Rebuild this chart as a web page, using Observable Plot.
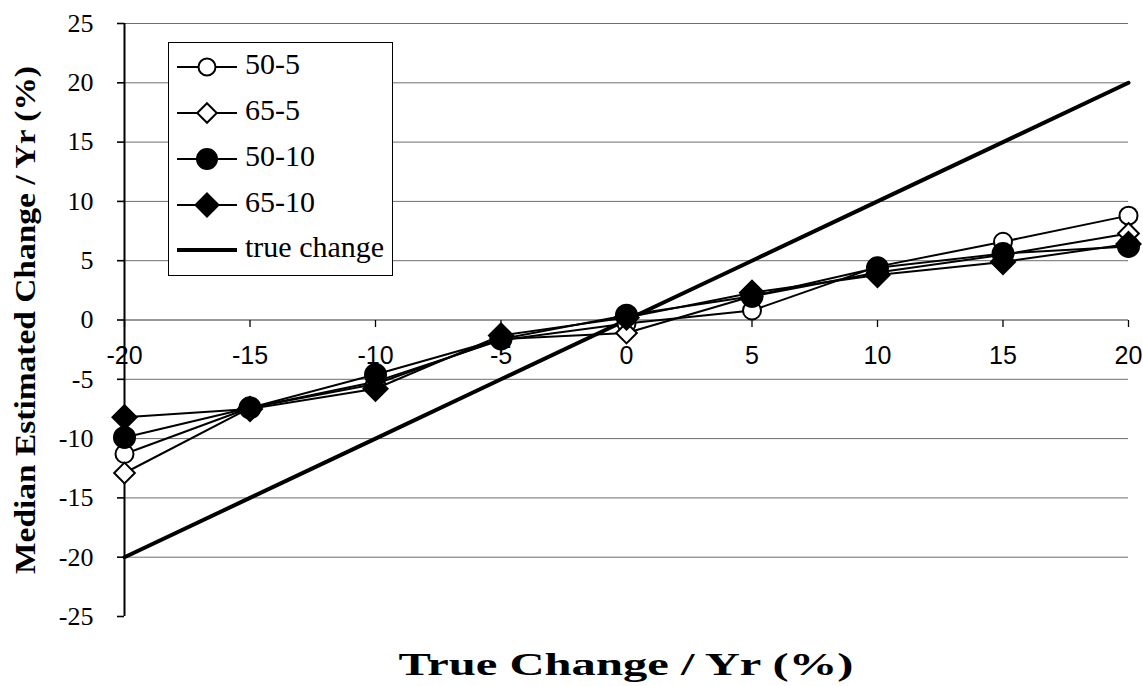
<!DOCTYPE html>
<html><head><meta charset="utf-8">
<script src="https://cdn.jsdelivr.net/npm/d3@7"></script>
<script src="https://cdn.jsdelivr.net/npm/@observablehq/plot@0.6"></script>
<style>
body{margin:0;background:#fff;}
#wrap{position:relative;width:1143px;height:686px;overflow:hidden;}
#wrap svg{display:block;}
#legend{position:absolute;left:0;top:0;}
</style></head><body><div id="wrap"></div>
<script>
// ---- data ----
const trueChange = [-20, -15, -10, -5, 0, 5, 10, 15, 20];
const s50_5  = [-11.3, -7.4, -5.2, -1.7, -0.3, 0.8, 4.5, 6.6, 8.8];
const s65_5  = [-12.9, -7.4, -5.4, -1.6, -1.1, 2.0, 4.0, 5.5, 7.3];
const s50_10 = [-9.9, -7.4, -4.6, -1.6, 0.4, 2.0, 4.4, 5.6, 6.2];
const s65_10 = [-8.2, -7.5, -5.8, -1.3, 0.2, 2.3, 3.8, 4.9, 6.4];
const seriesNames = ["50-5", "65-5", "50-10", "65-10"];
const trueLabel = "true change";
const xTicks = [-20, -15, -10, -5, 0, 5, 10, 15, 20];
const yTicks = [-25, -20, -15, -10, -5, 0, 5, 10, 15, 20, 25];
const xTitle = "True Change / Yr (%)";
const yTitle = "Median Estimated Change / Yr (%)";

// ---- build tables ----
const seriesValues = [s50_5, s65_5, s50_10, s65_10];
const seriesStyle = [
  {shape: "circle", fill: "white"},
  {shape: "diamond", fill: "white"},
  {shape: "circle", fill: "black"},
  {shape: "diamond", fill: "black"}
];
const rows = [];
seriesNames.forEach((name, k) => trueChange.forEach((x, i) => rows.push({series: name, k, x, y: seriesValues[k][i]})));
const trueRows = trueChange.map(x => ({x, y: x}));

const diamond = {draw(ctx, size) {
  const r = Math.sqrt(size / Math.PI) * 1.15;
  ctx.moveTo(0, -r); ctx.lineTo(r, 0); ctx.lineTo(0, r); ctx.lineTo(-r, 0); ctx.closePath();
}};
const tickDown = {draw(ctx, size) { ctx.moveTo(0, 0); ctx.lineTo(0, 7); }};

const serif = "'Liberation Serif', 'Times New Roman', serif";
const sans = "'Liberation Sans', Arial, sans-serif";

const marks = [
  Plot.ruleY(yTicks.filter(d => d !== 0 && d !== -25), {stroke: "#6e6e6e", strokeWidth: 1}),
  Plot.ruleY([0], {stroke: "#333", strokeWidth: 1}),
  Plot.dot(xTicks, {x: d => d, y: () => 0, symbol: tickDown, stroke: "black", strokeWidth: 1.3, r: 3}),
  Plot.text(xTicks, {x: d => d, y: () => 0, text: d => String(d), dy: 36, fontSize: 25, fontFamily: sans, fill: "black", ariaLabel: "xtick"}),
  Plot.ruleX([-20], {y1: -25, y2: 25, stroke: "black", strokeWidth: 2}),
  Plot.axisY(yTicks, {tickSize: 7, tickPadding: 24, fontSize: 26, fontFamily: serif, stroke: "black", strokeWidth: 1.6, color: "black", label: null, tickFormat: d => String(d), ariaLabel: "ytick"}),
  Plot.line(trueRows, {x: "x", y: "y", stroke: "black", strokeWidth: 4})
];
seriesNames.forEach((name, k) => {
  const data = rows.filter(d => d.k === k);
  marks.push(Plot.line(data, {x: "x", y: "y", stroke: "black", strokeWidth: 2}));
});
seriesNames.forEach((name, k) => {
  const data = rows.filter(d => d.k === k);
  const st = seriesStyle[k];
  marks.push(Plot.dot(data, {x: "x", y: "y", symbol: st.shape === "circle" ? "circle" : diamond,
    r: st.fill === "white" ? 9 : 10.5, fill: st.fill, stroke: "black", strokeWidth: 2}));
});

const chart = Plot.plot({
  width: 1143, height: 686,
  marginLeft: 124, marginRight: 15, marginTop: 23, marginBottom: 70,
  x: {domain: [-20, 20], axis: null},
  y: {domain: [-25, 25], axis: null},
  style: {background: "white", color: "black", fontFamily: serif, overflow: "visible"},
  marks
});
const wrap = document.getElementById("wrap");
wrap.appendChild(chart);

// axis titles (text in the same svg)
const svg = d3.select(chart);
svg.append("text").attr("x", 626).attr("y", 668).attr("text-anchor", "middle").attr("dominant-baseline", "middle")
  .attr("font-family", serif).attr("font-weight", "bold").attr("font-size", 32)
  .attr("textLength", 455).attr("lengthAdjust", "spacingAndGlyphs").text(xTitle);
svg.append("text").attr("transform", "translate(28,320) rotate(-90)").attr("text-anchor", "middle").attr("dominant-baseline", "middle")
  .attr("font-family", serif).attr("font-weight", "bold").attr("font-size", 30)
  .attr("textLength", 508).attr("lengthAdjust", "spacingAndGlyphs").text(yTitle);

// legend overlay
const lg = d3.select(wrap).append("svg").attr("id", "legend").attr("width", 1143).attr("height", 686);
const box = lg.append("rect").attr("x", 168.5).attr("y", 42.5).attr("width", 179).attr("height", 233).attr("fill", "white").attr("stroke", "black").attr("stroke-width", 1);
const entryY = [67, 113, 159, 205, 250];
const items = seriesNames.map((n, k) => ({name: n, st: seriesStyle[k]})).concat([{name: trueLabel, st: null}]);
let maxRight = 0;
items.forEach((it, i) => {
  const y = entryY[i];
  const g = lg.append("g");
  g.append("line").attr("x1", 177).attr("x2", 237).attr("y1", y).attr("y2", y).attr("stroke", "black").attr("stroke-width", it.st ? 2 : 4);
  if (it.st) {
    const sym = it.st.shape === "circle" ? d3.symbolCircle : diamond;
    const r = it.st.fill === "white" ? 8.5 : 10;
    g.append("path").attr("d", d3.symbol(sym, Math.PI * r * r)()).attr("transform", `translate(207,${y})`)
      .attr("fill", it.st.fill).attr("stroke", "black").attr("stroke-width", 2);
  }
  const t = g.append("text").attr("x", 245).attr("y", y).attr("dominant-baseline", "middle").attr("font-family", serif)
    .attr("font-size", 30).text(it.name);
  maxRight = Math.max(maxRight, 245 + t.node().getComputedTextLength());
});
box.attr("width", Math.round(maxRight + 8 - 168));
</script>
</body></html>
